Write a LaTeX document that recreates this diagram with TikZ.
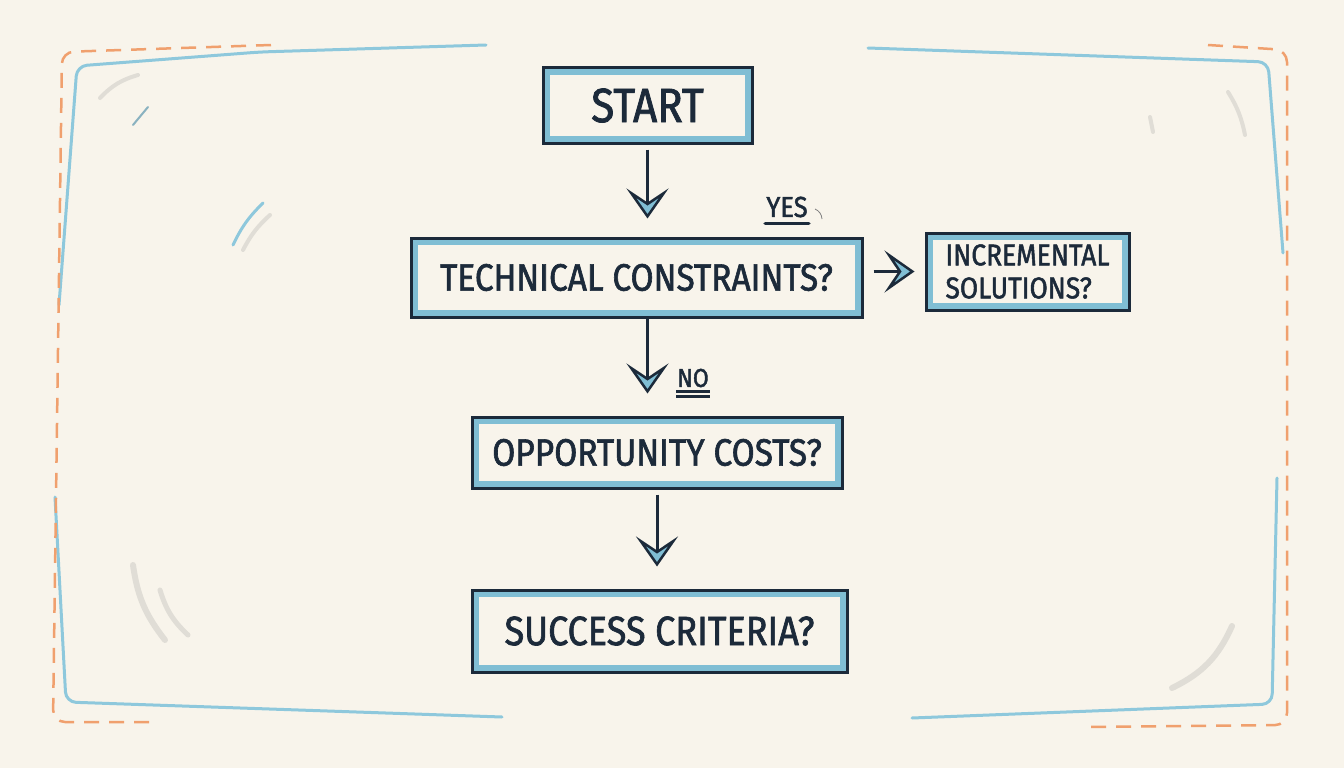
\documentclass[tikz,border=0pt]{standalone}
\usepackage{fontspec}
\newfontfamily\sketchfont{Fira Sans}[FakeStretch=0.88, FakeBold=1.6]
\usetikzlibrary{arrows.meta,positioning,calc}
\definecolor{paper}{RGB}{248,244,235}
\definecolor{sketchnavy}{RGB}{28,42,58}
\definecolor{sketchblue}{RGB}{128,190,212}
\definecolor{frameblue}{RGB}{142,200,220}
\definecolor{frameorange}{RGB}{240,160,110}
\definecolor{smudgegray}{RGB}{224,221,214}

\begin{document}
\begin{tikzpicture}[x=1pt,y=-1pt,
  flowbox/.style={draw=sketchnavy, line width=3pt, fill=paper, inner sep=0pt, text=sketchnavy,
    font=\sketchfont\fontsize{38}{40}\selectfont,
    path picture={\draw[sketchblue, line width=5.5pt]
      ([shift={(4pt,-4pt)}]path picture bounding box.north west) rectangle
      ([shift={(-4pt,4pt)}]path picture bounding box.south east);}},
  flowarrow/.style={draw=sketchnavy, line width=3pt,
    -{Stealth[length=30pt, width=42pt, inset=14pt, open, fill=sketchblue, line width=2.5pt]}},
  answer/.style={text=sketchnavy, inner sep=1pt, font=\sketchfont\fontsize{29}{30}\selectfont},
  frameline/.style={frameblue, line width=3pt, line cap=round, rounded corners=10pt},
  framedash/.style={frameorange, line width=2.5pt, dash pattern=on 15pt off 10pt, rounded corners=12pt},
  smudge/.style={smudgegray, line width=4pt, line cap=round}]
  \useasboundingbox (0,0) rectangle (1344,768);
  \fill[paper] (0,0) rectangle (1344,768);

  % Frame
  \draw[frameline] (486,45) -- (260,52) -- (77,66) -- (59,305);
  \draw[frameline] (55,497) -- (66,702) -- (502,717);
  \draw[frameline] (868,48) -- (1268,62) -- (1283,253);
  \draw[frameline] (1277,478) -- (1272,704) -- (912,718);
  \draw[framedash] (271,45) -- (62,52) -- (53,722) -- (157,722);
  \draw[framedash] (1208,45) -- (1287,50) -- (1287,725) -- (1083,727);

  % Smudges
  \draw[smudge] (100,98) to[bend left=15] (138,75);
  \draw[smudge, frameblue!70!gray, line width=2pt] (133,125) -- (148,107);
  \draw[smudge, frameblue, line width=3pt] (233,245) to[bend left=10] (263,203);
  \draw[smudge] (243,250) to[bend left=10] (270,215);
  \draw[smudge] (1228,92) to[bend left=10] (1245,135);
  \draw[smudge] (1150,117) -- (1153,132);
  \draw[smudge, line width=6pt] (133,565) to[bend right=15] (165,640);
  \draw[smudge, line width=5pt] (160,590) to[bend right=15] (188,635);
  \draw[smudge, line width=6pt] (1232,626) to[bend left=20] (1172,688);

  % Boxes
  \node[flowbox, minimum width=209pt, minimum height=75pt,
    font=\sketchfont\fontsize{48}{50}\selectfont] (start) at (647.5,105.5) {START};
  \node[flowbox, minimum width=451pt, minimum height=79pt] (tech) at (636.5,277.5) {TECHNICAL CONSTRAINTS?};
  \node[flowbox, minimum width=203pt, minimum height=77pt, align=left,
    font=\sketchfont\fontsize{30}{33}\selectfont] (incr) at (1027.5,271.5) {INCREMENTAL\\SOLUTIONS?};
  \node[flowbox, minimum width=370pt, minimum height=71pt] (opp) at (657,452.5) {OPPORTUNITY COSTS?};
  \node[flowbox, minimum width=375pt, minimum height=82pt,
    font=\sketchfont\fontsize{41}{44}\selectfont] (succ) at (659.5,631) {SUCCESS CRITERIA?};

  % Answers
  \node[answer] (yes) at (787,207) {YES};
  \draw[sketchnavy, line width=3.5pt, line cap=round] ([yshift=-5pt]yes.south west) -- ([yshift=-5pt]yes.south east);
  \draw[gray, line width=0.8pt] (815,209) to[bend left=30] (822,219);
  \node[answer, font=\sketchfont\fontsize{26}{28}\selectfont] (no) at (693,378) {NO};
  \draw[sketchnavy, line width=2.5pt] ([yshift=-3pt]no.south west) -- ([yshift=-3pt]no.south east);
  \draw[sketchnavy, line width=2.5pt] ([yshift=-8pt]no.south west) -- ([yshift=-8pt]no.south east);

  % Arrows
  \draw[flowarrow, shorten <=5pt, shorten >=18pt] (start.south) -- (start.south |- tech.north);
  \draw[flowarrow, shorten <=10pt, shorten >=10pt] (tech.east |- incr.west) -- (incr.west);
  \draw[flowarrow, shorten >=22pt] (tech.south -| start.south) -- (opp.north -| start.south);
  \draw[flowarrow, shorten <=5pt, shorten >=22pt] (opp.south) -- (opp.south |- succ.north);
\end{tikzpicture}
\end{document}
